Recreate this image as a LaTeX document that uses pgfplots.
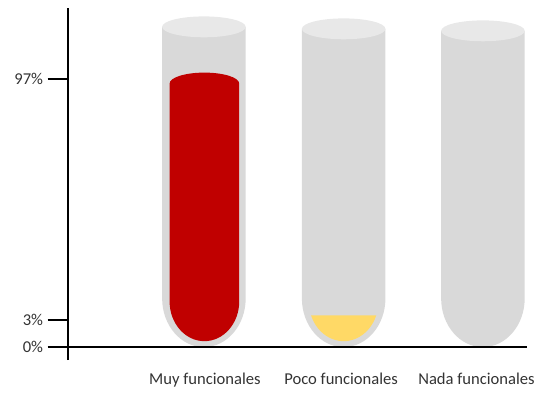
\documentclass[border=0pt]{standalone}
\usepackage{fontspec}
\setmainfont{Carlito}
\usepackage{pgfplots}
\pgfplotsset{compat=1.18}

\definecolor{tube}{HTML}{D9D9D9}
\definecolor{tubetop}{HTML}{E8E8E8}
\definecolor{muyred}{HTML}{C00000}
\definecolor{pocoyel}{HTML}{FFD966}
\definecolor{lbl}{HTML}{333333}

% axis units are pixels of the reference: 1px = 0.75pt
% tube: centre x, y of top ellipse
\newcommand{\tube}[2]{%
  \fill[tube] (axis cs:#1-42,#2) -- (axis cs:#1-42,49)
    arc[start angle=180,end angle=360,x radius=31.5pt,y radius=36.75pt]
    -- (axis cs:#1+42,#2) -- cycle;
  \fill[tubetop] (axis cs:#1,#2) ellipse[x radius=31.5pt,y radius=7.875pt];
}
% liquid filled up to a level with a round top: centre x, level, colour
\newcommand{\liquidfull}[3]{%
  \fill[#3] (axis cs:#1-35,#2) -- (axis cs:#1-35,46)
    arc[start angle=180,end angle=360,x radius=26.25pt,y radius=30pt]
    -- (axis cs:#1+35,#2)
    arc[start angle=0,end angle=180,x radius=26.25pt,y radius=8.25pt] -- cycle;
}
% liquid only in the round bottom, flat top at y=32
\newcommand{\liquidlow}[2]{%
  \fill[#2] (axis cs:#1-32.79,32)
    arc[start angle=200.49,end angle=339.51,x radius=26.25pt,y radius=30pt] -- cycle;
}

\begin{document}
\begin{tikzpicture}
\begin{axis}[
    x=0.75pt, y=0.75pt,
    xmin=68, xmax=530, ymin=-13, ymax=341,
    axis x line=middle, axis y line=left,
    axis line style={-, line width=1.5pt, black},
    clip=false, axis on top,
    xtick={206,343,479},
    xticklabels={Muy funcionales, Poco funcionales, Nada funcionales},
    xtick style={draw=none},
    xticklabel style={anchor=base, yshift=-13.5pt, text=lbl,
        font=\fontsize{12.5}{14}\selectfont},
    ytick={0,27,270},
    yticklabels={0\%, 3\%, 97\%},
    ytick style={line width=1.5pt, black},
    yticklabel style={text=lbl, font=\fontsize{12.5}{14}\selectfont},
    tick align=outside, major tick length=15pt,
]
% page frame of the reference
\path (axis cs:0,-44) rectangle (axis cs:539,349);

\tube{205}{322}
\tube{345.5}{320}
\tube{485.5}{318}

% Muy funcionales 97%, Poco funcionales 3%, Nada funcionales 0%
\liquidfull{205.5}{265}{muyred}
\liquidlow{345.5}{pocoyel}
\end{axis}
\end{tikzpicture}
\end{document}
